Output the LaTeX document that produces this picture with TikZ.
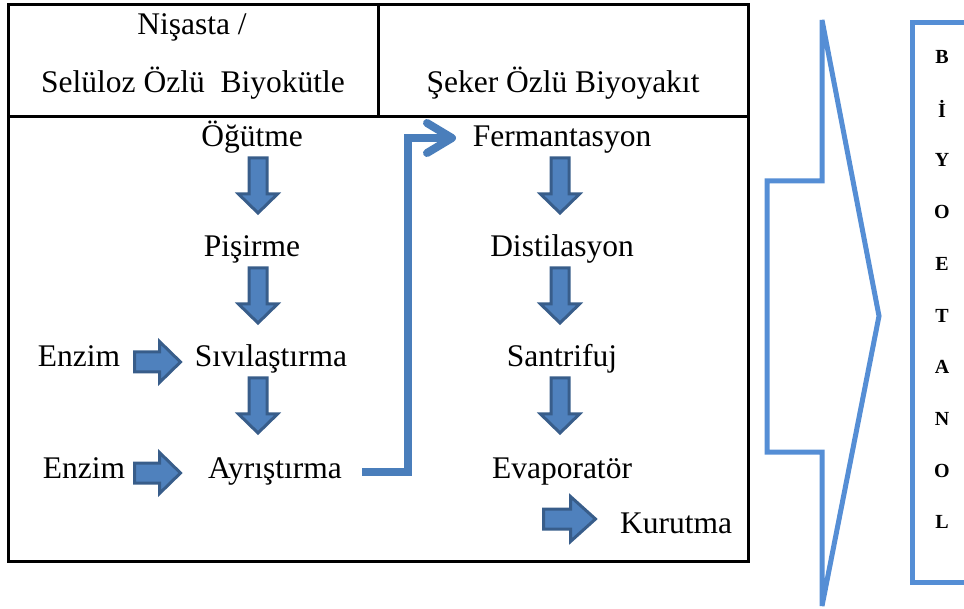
\documentclass[tikz,border=0pt]{standalone}
\usepackage{fontspec}
\setmainfont{Liberation Serif}
\usetikzlibrary{arrows.meta}
\definecolor{blockfill}{HTML}{4F81BD}
\definecolor{blockline}{HTML}{385D8A}
\definecolor{conncol}{HTML}{4A7EBB}
\definecolor{bigcol}{HTML}{558ED5}
\tikzset{
  lbl/.style={font=\fontsize{31.5}{36}\selectfont, inner sep=0pt, anchor=base},
  letter/.style={font=\fontsize{20}{22}\selectfont\bfseries, inner sep=0pt},
  frame/.style={line width=3pt, draw=black},
  blockarr/.style={fill=blockfill, draw=blockline, line width=3pt, line join=miter},
  conn/.style={draw=conncol, line width=8pt, line join=miter,
    -{Straight Barb[length=25pt,width=30pt,round]}},
  bigshape/.style={draw=bigcol, line width=5pt},
  pics/downarr/.style={code={\path[blockarr] (-9,0) -- (9,0) -- (9,36) -- (19.5,36) -- (0,55) -- (-19.5,36) -- (-9,36) -- cycle;}},
  pics/rightarr/.style={code={\path[blockarr] (0,-10) -- (25,-10) -- (25,-20.5) -- (46,0) -- (25,20.5) -- (25,10) -- (0,10) -- cycle;}},
  pics/bigrightarr/.style={code={\path[blockarr] (0,-10) -- (27,-10) -- (27,-22.5) -- (52,0) -- (27,22.5) -- (27,10) -- (0,10) -- cycle;}},
}
\begin{document}
\begin{tikzpicture}[x=1pt,y=-1pt]
\useasboundingbox (0,0) rectangle (964,609);
% main frame
\draw[frame] (8,5) rectangle (748,561);
\draw[frame] (8,117) -- (748,117);
\draw[frame] (378,5) -- (378,117);
% header
\node[lbl] (nis) at (192,35) {Nişasta /};
\node[lbl] (sel) at (193,93) {Selüloz Özlü\ \ Biyokütle};
\node[lbl] (sek) at (563,93) {Şeker Özlü Biyoyakıt};
% left column
\node[lbl] (ogu) at (252,147) {Öğütme};
\node[lbl] (pis) at (252,257) {Pişirme};
\node[lbl] (siv) at (271,367) {Sıvılaştırma};
\node[lbl] (ayr) at (275,478) {Ayrıştırma};
\node[lbl] (enz1) at (79,367) {Enzim};
\node[lbl] (enz2) at (84,478) {Enzim};
% right column
\node[lbl] (fer) at (562,147) {Fermantasyon};
\node[lbl] (dis) at (562,257) {Distilasyon};
\node[lbl] (san) at (562,367) {Santrifuj};
\node[lbl] (eva) at (562,478) {Evaporatör};
\node[lbl] (kur) at (676,533) {Kurutma};
% block arrows
\pic (d1) at (258,158) {downarr};
\pic (d2) at (258,268) {downarr};
\pic (d3) at (258,378) {downarr};
\pic (d4) at (560,158) {downarr};
\pic (d5) at (560,268) {downarr};
\pic (d6) at (560,378) {downarr};
\pic (r1) at (134.5,362) {rightarr};
\pic (r2) at (134.5,473) {rightarr};
\pic (r3) at (543.5,519) {bigrightarr};
% connector
\coordinate (cstart) at (362,472);
\coordinate (cbend) at (408,138);
\coordinate (ctip) at (456,138);
\draw[conn] (cstart) -| (cbend) -- (ctip);
% big notched arrow
\draw[bigshape] (822,20) -- (879,316) -- (822,606) -- (822,452) -- (767,452) -- (767,181) -- (822,181) -- cycle;
% result box
\draw[bigshape] (990,23) -- (912,23) -- (912,582) -- (990,582);
\foreach \ch [count=\i from 0] in {B,İ,Y,O,E,T,A,N,O,L}
  \node[letter] (let\i) at (942,{57+51.7*\i}) {\ch};
\end{tikzpicture}
\end{document}
